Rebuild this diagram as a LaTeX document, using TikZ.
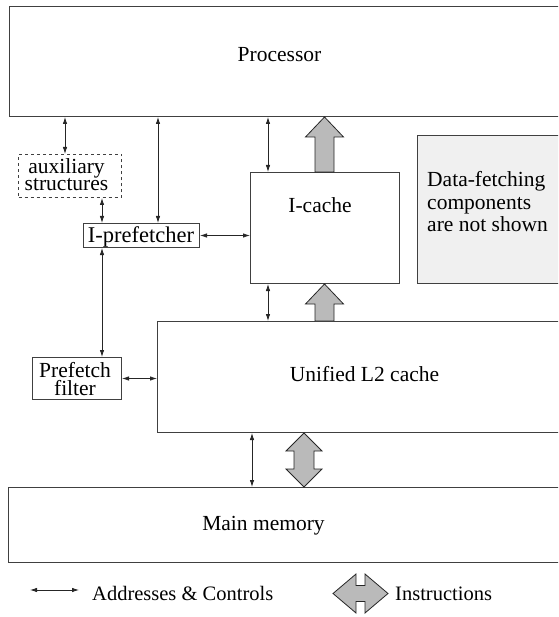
\documentclass[tikz,border=0pt]{standalone}
\usepackage{fontspec}
\setmainfont{Liberation Serif}
\usetikzlibrary{arrows.meta,calc}
\newcommand\fatup[3]{% #1 x coordinate name, #2 bottom anchor, #3 top anchor
  \draw[fat] ($(#2 -| #1)+(-9.5,0)$) -- ($(#3 -| #1)+(-9.5,20)$) -- ($(#3 -| #1)+(-19,20)$)
    -- (#3 -| #1) -- ($(#3 -| #1)+(19,20)$) -- ($(#3 -| #1)+(9.5,20)$) -- ($(#2 -| #1)+(9.5,0)$) -- cycle;}
\begin{document}
\begin{tikzpicture}[x=1pt,y=-1pt,
  box/.style={draw=black!75,line width=1pt,anchor=north west,inner sep=0pt},
  link/.style={{Latex[length=7pt,width=4.5pt]}-{Latex[length=7pt,width=4.5pt]},line width=0.8pt,black!85},
  fat/.style={draw=black!85,fill=black!27,line width=0.8pt,line join=miter},
  lbl/.style={font=\fontsize{21.5}{22}\selectfont,inner sep=0pt,anchor=base}]
\useasboundingbox (0,0) rectangle (558,617);
\clip (0,0) rectangle (558,617);
% boxes
\node[box,minimum width=560pt,minimum height=110pt] (proc) at (9,6) {};
\node[box,dashed,minimum width=103pt,minimum height=43pt] (aux) at (18,154) {};
\node[box,minimum width=116pt,minimum height=24pt] (ipref) at (83,223) {};
\node[box,minimum width=149pt,minimum height=111pt] (icache) at (250,172) {};
\node[box,fill=black!6,minimum width=150pt,minimum height=148pt] (data) at (417,135) {};
\node[box,minimum width=89pt,minimum height=42pt] (pf) at (32,357) {};
\node[box,minimum width=410pt,minimum height=111pt] (l2) at (157,321) {};
\node[box,minimum width=560pt,minimum height=75pt] (main) at (8,487) {};
% labels (multi-line labels are placed by the baseline of their last line)
\node[lbl] (tproc) at (279.5,62) {Processor};
\node[lbl,align=center,font=\fontsize{21.5}{17}\selectfont] (taux) at (66.5,191) {auxiliary\\structures};
\node[lbl,font=\fontsize{22.5}{22}\selectfont] (tipref) at (141,242) {I-prefetcher};
\node[lbl] (tic) at (320,213) {I-cache};
\node[lbl,anchor=base west,align=left,font=\fontsize{21.5}{22.5}\selectfont] (td) at (427,232) {Data-fetching\\components\\are not shown};
\node[lbl,align=center,font=\fontsize{21.5}{18}\selectfont] (tpf) at (75,395) {Prefetch\\filter};
\node[lbl] (tl2) at (364.5,381) {Unified L2 cache};
\node[lbl] (tmain) at (263.5,530) {Main memory};
\node[lbl,anchor=base west,font=\fontsize{20.5}{22}\selectfont] (tleg1) at (92,600) {Addresses \& Controls};
\node[lbl,anchor=base west,font=\fontsize{20.5}{22}\selectfont] (tleg2) at (395,600) {Instructions};
% x positions of vertical links
\coordinate (xa) at (65,0);
\coordinate (xb) at (158,0);
\coordinate (xc) at (102,0);
\coordinate (xd) at (268,0);
\coordinate (xe) at (252,0);
\coordinate (xf) at (324.5,0);
\coordinate (xg) at (304,0);
% thin links
\draw[link] (proc.south -| xa) -- (aux.north -| xa);
\draw[link] (proc.south -| xb) -- (ipref.north -| xb);
\draw[link] (aux.south -| xc) -- (ipref.north -| xc);
\draw[link] (ipref.east) -- (icache.west |- ipref.east);
\draw[link] (ipref.south -| xc) -- (pf.north -| xc);
\draw[link] (pf.east) -- (l2.west |- pf.east);
\draw[link] (proc.south -| xd) -- (icache.north -| xd);
\draw[link] (icache.south -| xd) -- (l2.north -| xd);
\draw[link] (l2.south -| xe) -- (main.north -| xe);
% fat instruction arrows
\fatup{xf}{icache.north}{proc.south}
\fatup{xf}{l2.north}{icache.south}
\draw[fat] (l2.south -| xg) -- ($(l2.south -| xg)+(18,18)$) -- ($(l2.south -| xg)+(10,18)$)
  -- ($(main.north -| xg)+(10,-18)$) -- ($(main.north -| xg)+(18,-18)$) -- (main.north -| xg)
  -- ($(main.north -| xg)+(-18,-18)$) -- ($(main.north -| xg)+(-10,-18)$)
  -- ($(l2.south -| xg)+(-10,18)$) -- ($(l2.south -| xg)+(-18,18)$) -- cycle;
% legend
\coordinate (la) at (30,590);
\coordinate (lb) at (79,590);
\draw[link] (la) -- (lb);
\coordinate (lc) at (333,593.5);
\coordinate (ld) at (388,593.5);
\draw[fat] (lc) -- ($(lc)+(23,-19.5)$) -- ($(lc)+(23,-8)$) -- ($(ld)+(-23,-8)$) -- ($(ld)+(-23,-19.5)$)
  -- (ld) -- ($(ld)+(-23,19.5)$) -- ($(ld)+(-23,8)$) -- ($(lc)+(23,8)$) -- ($(lc)+(23,19.5)$) -- cycle;
\end{tikzpicture}
\end{document}
